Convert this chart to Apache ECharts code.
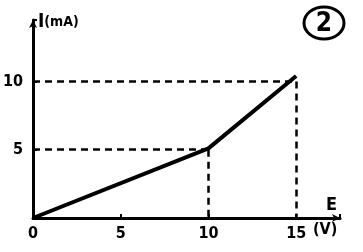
<!DOCTYPE html>
<html><head><meta charset="utf-8">
<script src="https://cdn.jsdelivr.net/npm/echarts@6/dist/echarts.min.js"></script>
<style>html,body{margin:0;padding:0;background:#fff}#c{width:363px;height:252px}</style>
</head><body><div id="c"></div>
<script>
// Data
const voltage = [0, 10, 15];          // E (V)
const current = [0, 5.1, 10.4];       // I (mA)
const xTicks = [0, 5, 10, 15];
const yTicks = [5, 10];
const guideX = [10, 15];              // dashed readings
const guideY = [5, 10];

const chart = echarts.init(document.getElementById('c'));
const font = '"DejaVu Sans Condensed", "DejaVu Sans", sans-serif';

const guideLines = [];
guideX.forEach((gx, i) => {
  const gy = guideY[i];
  guideLines.push([{coord: [0, gy]}, {coord: [gx, gy]}]);
  guideLines.push([{coord: [gx, gy]}, {coord: [gx, 0]}]);
});

chart.setOption({
  animation: false,
  grid: {left: 33, right: 23, top: 20, bottom: 34},
  xAxis: {
    type: 'value', min: 0, max: 17.5, interval: 5,
    axisLine: {lineStyle: {color: '#000', width: 3}, symbol: ['none', 'arrow'], symbolSize: [6, 8]},
    axisTick: {show: true, inside: true, length: 4, lineStyle: {color: '#000', width: 2}},
    splitLine: {show: false},
    axisLabel: {color: '#000', fontSize: 16, fontWeight: 'bold', fontFamily: font, margin: 8,
      formatter: v => xTicks.includes(v) ? String(v) : ''}
  },
  yAxis: {
    type: 'value', min: 0, max: 14.5, interval: 5,
    axisLine: {lineStyle: {color: '#000', width: 3}, symbol: ['none', 'arrow'], symbolSize: [6, 8]},
    axisTick: {show: true, inside: true, length: 4, lineStyle: {color: '#000', width: 2}},
    splitLine: {show: false},
    axisLabel: {color: '#000', fontSize: 16, fontWeight: 'bold', fontFamily: font, margin: 10,
      formatter: v => yTicks.includes(v) ? String(v) : ''}
  },
  series: [{
    type: 'line',
    data: voltage.map((v, i) => [v, current[i]]),
    symbol: 'none',
    lineStyle: {color: '#000', width: 4},
    markLine: {
      silent: true, symbol: 'none', label: {show: false},
      lineStyle: {color: '#000', width: 2.5, type: [7, 5]},
      data: guideLines
    }
  }],
  graphic: [
    {type: 'text', left: 38, top: 13, style: {
      text: '{a|I}{b|(mA)}', fill: '#000',
      rich: {a: {fontSize: 19, fontWeight: 'bold', fontFamily: font},
             b: {fontSize: 14, fontWeight: 'bold', fontFamily: font}}}},
    {type: 'text', left: 326, top: 196, style: {text: 'E', fill: '#000', fontSize: 18, fontWeight: 'bold', fontFamily: font}},
    {type: 'text', left: 313, top: 222, style: {text: '(V)', fill: '#000', fontSize: 16, fontWeight: 'bold', fontFamily: font}},
    {type: 'ellipse', shape: {cx: 324, cy: 23, rx: 20, ry: 16}, style: {fill: 'none', stroke: '#000', lineWidth: 3}},
    {type: 'text', x: 324, y: 24, style: {text: '2', fill: '#000', fontSize: 26, fontWeight: 'bold', fontFamily: font, align: 'center', verticalAlign: 'middle'}}
  ]
});
</script></body></html>
